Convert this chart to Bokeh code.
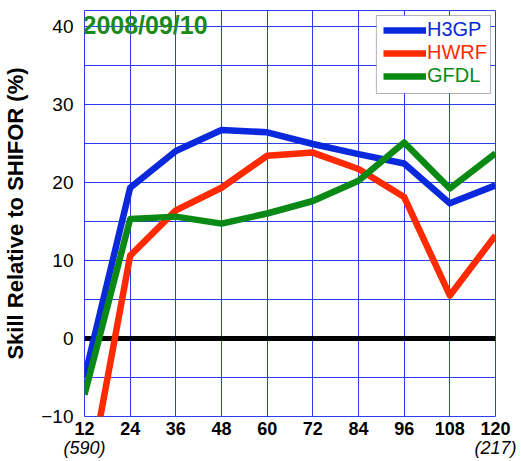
from bokeh.plotting import figure
from bokeh.models import (Legend, LegendItem, Label, Span, FixedTicker, Range1d,
                          BoxAnnotation, LinearAxis)
from bokeh.embed import file_html
from bokeh.resources import INLINE

# ---- data ----
hours = [12, 24, 36, 48, 60, 72, 84, 96, 108, 120]
h3gp = [-5.0, 19.3, 24.0, 26.7, 26.4, 24.9, 23.6, 22.4, 17.3, 19.6]
hwrf = [-21.0, 10.6, 16.4, 19.3, 23.4, 23.8, 21.7, 18.1, 5.5, 13.2]
gfdl = [-7.2, 15.3, 15.6, 14.7, 16.0, 17.6, 20.2, 25.1, 19.2, 23.7]
series_names = ["H3GP", "HWRF", "GFDL"]
y_ticks = [-10, 0, 10, 20, 30, 40]
y_grid = [-10, -5, 0, 5, 10, 15, 20, 25, 30, 35, 40]
case_hours = [12, 120]
case_counts = ["(590)", "(217)"]
date_text = "2008/09/10"
y_title = "Skill Relative to SHIFOR (%)"

# ---- styles ----
FONT = "Liberation Sans"
BLUE = "#0a28dc"
RED = "#ff2a00"
GREEN = "#0a8a14"
GRID = "#2a3ef0"
colors = [BLUE, RED, GREEN]

p = figure(width=521, height=461, output_backend="svg", toolbar_location=None,
           x_range=Range1d(12, 120), y_range=Range1d(-10, 42),
           min_border_left=81, min_border_right=26, min_border_top=10,
           min_border_bottom=45)
p.title.visible = False
p.background_fill_color = "white"
p.border_fill_color = "white"
p.outline_line_color = GRID
p.outline_line_width = 1

# axes
p.xaxis.ticker = FixedTicker(ticks=hours)
p.yaxis.ticker = FixedTicker(ticks=y_ticks)
case_axis = LinearAxis(ticker=FixedTicker(ticks=case_hours),
                       major_label_overrides={h: t for h, t in zip(case_hours, case_counts)})
p.add_layout(case_axis, "below")
for ax in (p.xaxis[0], p.yaxis[0], case_axis):
    ax.axis_line_color = None
    ax.major_tick_line_color = None
    ax.minor_tick_line_color = None
    ax.major_tick_out = 0
    ax.major_tick_in = 0
    ax.minor_tick_out = 0
    ax.minor_tick_in = 0
    ax.major_label_text_font = FONT
    ax.major_label_text_color = "black"
p.xaxis[0].major_label_text_font_size = "18px"
p.xaxis[0].major_label_text_font_style = "bold"
p.xaxis[0].major_label_standoff = 5
case_axis.major_label_text_font_size = "18px"
case_axis.major_label_text_font_style = "italic"
case_axis.major_label_standoff = 0
p.yaxis.major_label_text_font_size = "19px"
p.yaxis.major_label_standoff = 11
p.yaxis.axis_label = y_title
p.yaxis.axis_label_text_font = FONT
p.yaxis.axis_label_text_font_size = "22px"
p.yaxis.axis_label_text_font_style = "bold"
p.yaxis.axis_label_text_color = "black"
p.yaxis.axis_label_standoff = 10

# grid
p.xgrid.ticker = FixedTicker(ticks=hours)
p.ygrid.ticker = FixedTicker(ticks=y_grid)
p.xgrid.grid_line_color = GRID
p.ygrid.grid_line_color = GRID
p.xgrid.grid_line_width = 1
p.ygrid.grid_line_width = 1

# zero line
zero = Span(location=0, dimension="width", line_color="black", line_width=5,
            level="underlay")
p.add_layout(zero)

# series
renderers = []
for ys, c in zip([h3gp, hwrf, gfdl], colors):
    r = p.line(hours, ys, line_color=c, line_width=6.5, line_join="round")
    renderers.append(r)

# legend box
box = BoxAnnotation(left=88.7, right=118.7, top=41.36, bottom=31.37,
                    fill_color="white", fill_alpha=1.0,
                    line_color="black", line_width=1)
p.add_layout(box)

legend_bottoms = [375, 352, 329]
for name, r, c, yb in zip(series_names, renderers, colors, legend_bottoms):
    leg = Legend(items=[LegendItem(label=name, renderers=[r])],
                 location=(299, yb), padding=0, margin=0, spacing=0,
                 glyph_width=43, glyph_height=20, label_height=20,
                 label_standoff=1, label_text_font=FONT,
                 label_text_font_size="20px", label_text_color=c,
                 background_fill_alpha=0, border_line_alpha=0)
    p.add_layout(leg)

# date title
p.add_layout(Label(x=hours[0], y=42, text=date_text, text_font=FONT,
                   text_font_size="25px", text_font_style="bold",
                   text_color="#1a8a1a", text_baseline="top", text_align="left",
                   x_offset=-2, y_offset=0))

open("out.html", "w").write(file_html(p, INLINE))
